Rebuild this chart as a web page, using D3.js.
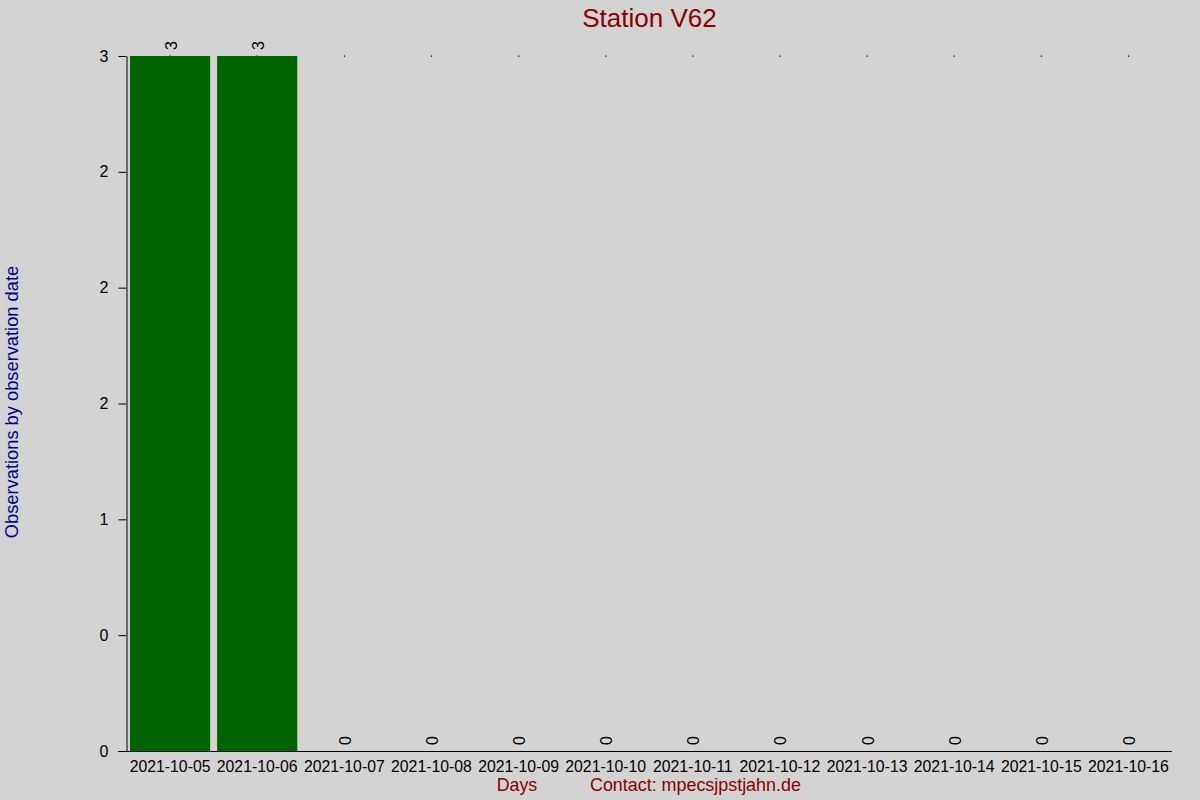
<!DOCTYPE html>
<html lang="en">
<head>
    <meta charset="UTF-8">
    <title>Station V62</title>
    <script src="https://d3js.org/d3.v7.min.js"></script>
    <style>
      body { margin: 0; background: #d3d3d3; }
      svg { font-family: "Liberation Sans", Arial, sans-serif; }
    </style>
</head>
<body>
    <svg id="chart" width="1200" height="800"></svg>
    <script>
      // data
      const days = ["2021-10-05", "2021-10-06", "2021-10-07", "2021-10-08", "2021-10-09", "2021-10-10",
                    "2021-10-11", "2021-10-12", "2021-10-13", "2021-10-14", "2021-10-15", "2021-10-16"];
      const counts = [3, 3, 0, 0, 0, 0, 0, 0, 0, 0, 0, 0];
      const yTickValues = [0, 0.5, 1, 1.5, 2, 2.5, 3];
      const yTickLabels = ["0", "0", "1", "2", "2", "2", "3"];

      const svg = d3.select("#chart");
      const width = +svg.attr("width");
      const height = +svg.attr("height");

      svg.append("rect").attr("width", width).attr("height", height).attr("fill", "#d3d3d3");

      const x = d3.scaleBand()
        .domain(days)
        .range([126.5, 1172])
        .paddingInner(0.08)
        .paddingOuter(0.04);

      const y = d3.scaleLinear()
        .domain([0, d3.max(counts)])
        .range([751, 56]);

      const data = days.map((d, i) => ({ day: d, value: counts[i] }));

      // little marks at the top of the plot for each day
      svg.append("g").selectAll("rect")
        .data(data)
        .join("rect")
        .attr("x", d => x(d.day) + x.bandwidth() / 2 - 0.5)
        .attr("y", y(d3.max(counts)) - 0.5)
        .attr("width", 1.2)
        .attr("height", 1.2)
        .attr("fill", "#000");

      // bars
      svg.append("g").selectAll("rect")
        .data(data)
        .join("rect")
        .attr("x", d => x(d.day))
        .attr("y", d => y(d.value))
        .attr("width", x.bandwidth())
        .attr("height", d => y(0) - y(d.value))
        .attr("fill", "#006400");

      // value labels, rotated
      svg.append("g").selectAll("text")
        .data(data)
        .join("text")
        .attr("transform", d => "translate(" + (x(d.day) + x.bandwidth() / 2 + 1) + "," + (y(d.value) - 6) + ") rotate(-90)")
        .attr("dominant-baseline", "central")
        .attr("text-anchor", "start")
        .attr("font-size", 16)
        .attr("fill", "#000")
        .text(d => d.value);

      // y axis
      const yAxis = d3.axisLeft(y)
        .tickValues(yTickValues)
        .tickFormat((d, i) => yTickLabels[i])
        .tickSizeInner(8)
        .tickSizeOuter(0)
        .tickPadding(10);

      const gy = svg.append("g")
        .attr("transform", "translate(126.5,0)")
        .call(yAxis);
      gy.selectAll("text").attr("font-size", 16).attr("font-family", "Liberation Sans, Arial, sans-serif").attr("fill", "#000");
      gy.selectAll("line").attr("stroke", "#000");
      gy.select(".domain").attr("stroke", "#000");

      // x axis
      const xAxis = d3.axisBottom(x).tickSize(0).tickPadding(9);
      const gx = svg.append("g")
        .attr("transform", "translate(0,751.5)")
        .call(xAxis);
      gx.select(".domain").remove();
      gx.append("line")
        .attr("x1", 118).attr("x2", 1172)
        .attr("stroke", "#000");
      gx.selectAll("text").attr("font-size", 15.8).attr("font-family", "Liberation Sans, Arial, sans-serif").attr("fill", "#000");

      // title
      svg.append("text")
        .attr("x", 649.5)
        .attr("y", 27)
        .attr("text-anchor", "middle")
        .attr("font-size", 26)
        .attr("fill", "#8b0000")
        .text("Station V62");

      // y label
      svg.append("text")
        .attr("transform", "translate(11,402) rotate(-90)")
        .attr("text-anchor", "middle")
        .attr("dominant-baseline", "central")
        .attr("font-size", 18.3)
        .attr("fill", "#00008b")
        .text("Observations by observation date");

      // x label and contact
      svg.append("text")
        .attr("x", 517)
        .attr("y", 791)
        .attr("text-anchor", "middle")
        .attr("font-size", 17.8)
        .attr("fill", "#8b0000")
        .text("Days");

      svg.append("text")
        .attr("x", 590)
        .attr("y", 791)
        .attr("font-size", 17.9)
        .attr("fill", "#8b0000")
        .text("Contact: mpecsjpstjahn.de");
    </script>
</body>
</html>
